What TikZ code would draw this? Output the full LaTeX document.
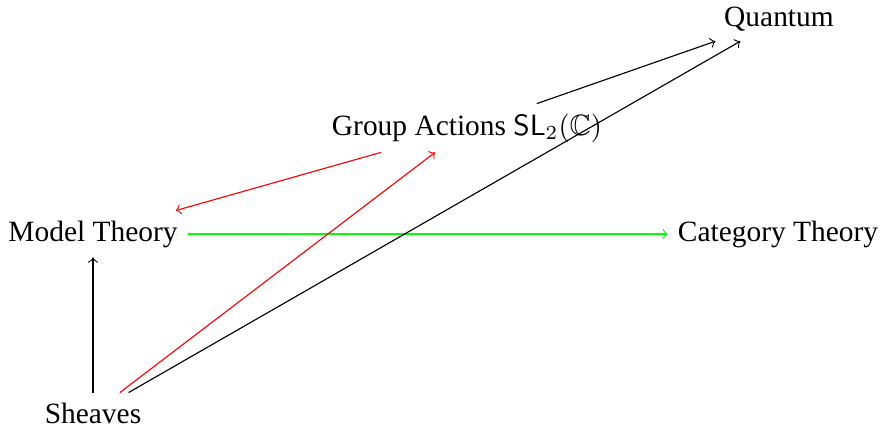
\documentclass[tikz,border=0pt]{standalone}
\usepackage{fontspec}
\setmainfont{Liberation Serif}
\usepackage{amsmath}
\usepackage{amssymb}
\usetikzlibrary{positioning, arrows.meta}

\begin{document}
\begin{tikzpicture}[
    x=0.35pt, y=-0.35pt,
    topic/.style={font=\fontsize{10.3}{12}\selectfont},
    arrow/.style={->, >=to},
    redarrow/.style={arrow, red},
    greenarrow/.style={arrow, green}
]
\useasboundingbox (0,0) rectangle (884,426);

% Nodes
\node[topic] (quantum) at (779,19) {Quantum};
\node[topic] (groups) at (467,128) {Group Actions $\mathsf{SL}_2(\mathbb{C})$};
\node[topic] (model) at (93,234) {Model Theory};
\node[topic] (category) at (778,234) {Category Theory};
\node[topic] (sheaves) at (93,413) {Sheaves};

% Edges
\draw[arrow] (groups) -- (quantum);
\draw[redarrow] (groups) -- (model);
\draw[greenarrow] (model) -- (category);
\draw[arrow] (sheaves) -- (model);
\draw[redarrow] (sheaves) -- (groups);
\draw[arrow] (sheaves) -- (quantum);

\end{tikzpicture}
\end{document}
